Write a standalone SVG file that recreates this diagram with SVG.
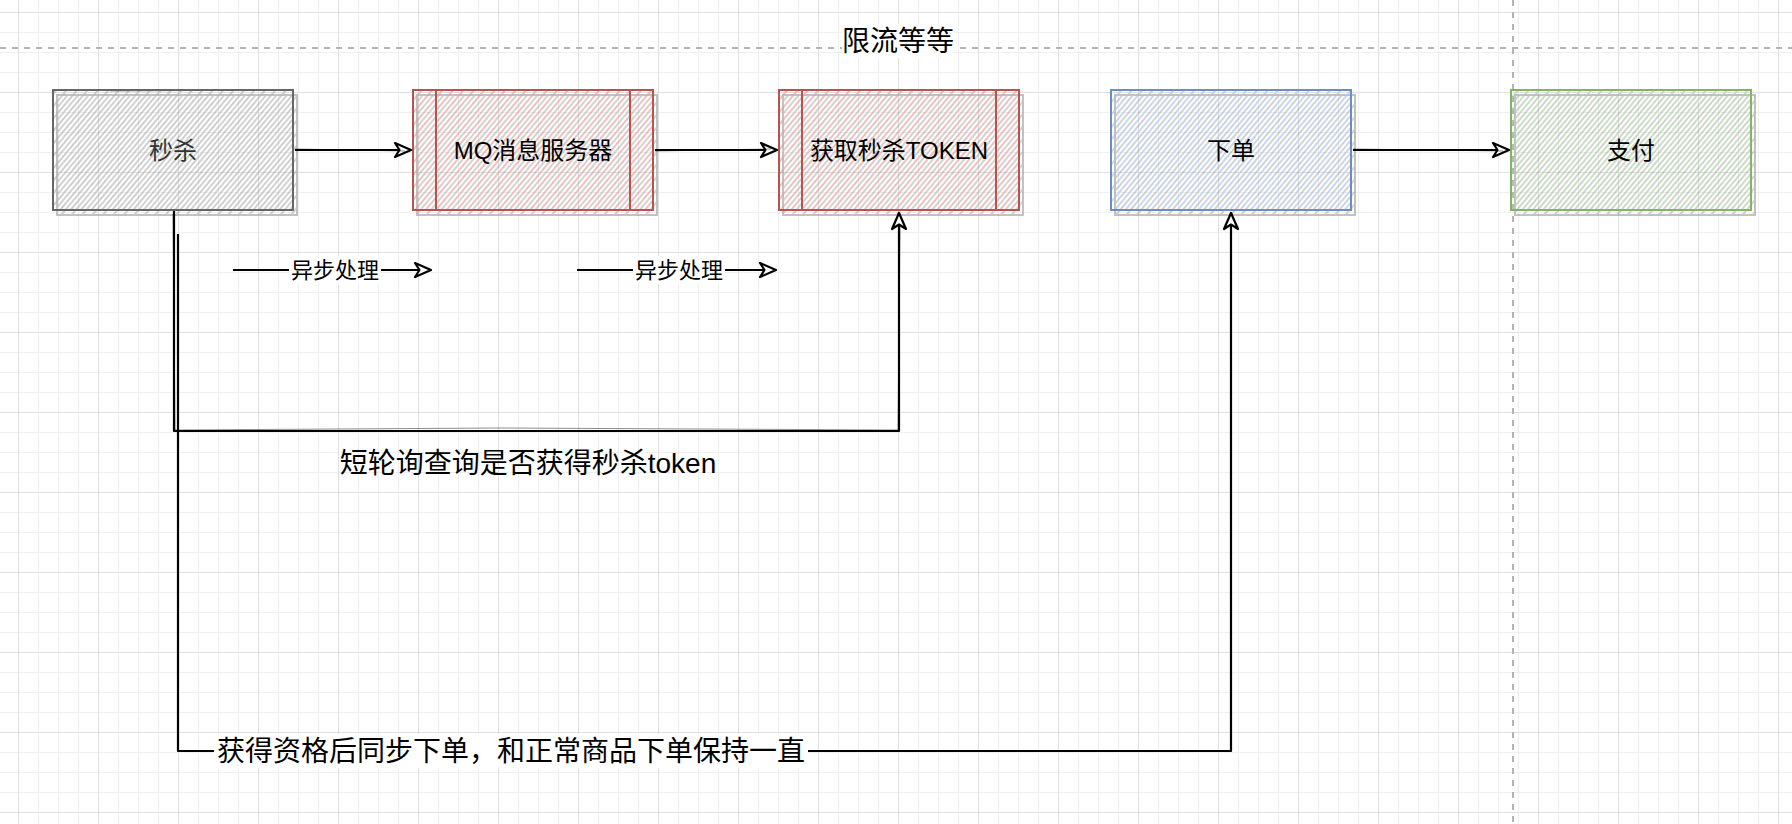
<svg xmlns="http://www.w3.org/2000/svg" width="1792" height="824" viewBox="0 0 1792 824">
<style>
.t{font-family:"Liberation Sans","Noto Sans CJK SC",sans-serif;text-anchor:middle;dominant-baseline:central;fill:#000}
.conn{fill:none;stroke:#000;stroke-width:2.2;stroke-linejoin:round}
.sk{fill:none;stroke:#000;stroke-width:1;opacity:.45}
.shadow{stroke:#9a9a9a;stroke-width:2;opacity:.6}
.dash{stroke:#b3b3b3;stroke-width:2;stroke-dasharray:6 6;fill:none}
</style>
<defs>
<pattern id="gridMinor" patternUnits="userSpaceOnUse" x="18" y="12" width="20" height="20">
<path d="M0 0V20M0 0H20" stroke="#efefef" stroke-width="2" fill="none"/>
</pattern>
<pattern id="gridMajor" patternUnits="userSpaceOnUse" x="18" y="12" width="80" height="80">
<path d="M0 0V80M0 0H80" stroke="#d4d4d4" stroke-width="1.2" fill="none"/>
</pattern>
<pattern id="hShadow" patternUnits="userSpaceOnUse" width="8" height="8" patternTransform="rotate(40)">
<line x1="1" y1="0" x2="1" y2="8" stroke="#7a7a7a" stroke-width="1.1"/>
</pattern>
<pattern id="hGray" patternUnits="userSpaceOnUse" width="8" height="8" patternTransform="rotate(40) translate(4 0)">
<line x1="1" y1="0" x2="1" y2="8" stroke="#b5b5b5" stroke-width="1.3"/>
</pattern>
<pattern id="hRed" patternUnits="userSpaceOnUse" width="8" height="8" patternTransform="rotate(40) translate(4 0)">
<line x1="1" y1="0" x2="1" y2="8" stroke="#e89e9a" stroke-width="1.3"/>
</pattern>
<pattern id="hBlue" patternUnits="userSpaceOnUse" width="8" height="8" patternTransform="rotate(40) translate(4 0)">
<line x1="1" y1="0" x2="1" y2="8" stroke="#a8c3ec" stroke-width="1.3"/>
</pattern>
<pattern id="hGreen" patternUnits="userSpaceOnUse" width="8" height="8" patternTransform="rotate(40) translate(4 0)">
<line x1="1" y1="0" x2="1" y2="8" stroke="#a9d29c" stroke-width="1.3"/>
</pattern>
<marker id="arr" markerUnits="userSpaceOnUse" markerWidth="22" markerHeight="18" refX="17" refY="8" orient="auto" overflow="visible">
<path d="M1 1 L17 8 L1 15 L5.5 8 Z" fill="#fff" stroke="#000" stroke-width="2.2" stroke-linejoin="round"/>
</marker>
</defs>

<rect width="1792" height="824" fill="#fff"/>
<rect width="1792" height="824" fill="url(#gridMinor)"/>
<rect width="1792" height="824" fill="url(#gridMajor)"/>

<g id="dividers">
<line class="dash" x1="0" y1="48" x2="1792" y2="48"/>
<line class="dash" x1="1513" y1="0" x2="1513" y2="824"/>
</g>

<g id="label-limit">
<rect x="842" y="24" width="112" height="34" fill="#fff"/>
<text class="t" x="898" y="41" font-size="28">限流等等</text>
</g>

<g id="node-seckill">
<rect x="57" y="95" width="240" height="120" fill="url(#hShadow)" class="shadow"/>
<rect x="53" y="90" width="240" height="120" fill="url(#hGray)" stroke="#666" stroke-width="2"/>
<path d="M110 91 L292 90" stroke="#666" stroke-width="1" fill="none" opacity=".6"/>
<text class="t" x="173" y="150" font-size="24" style="fill:#333">秒杀</text>
</g>

<g id="node-mq">
<rect x="417" y="95" width="240" height="120" fill="url(#hShadow)" class="shadow"/>
<rect x="413" y="90" width="240" height="120" fill="url(#hRed)" stroke="#b85450" stroke-width="2"/>
<line x1="436" y1="90" x2="436" y2="210" stroke="#b85450" stroke-width="2"/>
<line x1="630" y1="90" x2="630" y2="210" stroke="#b85450" stroke-width="2"/>
<text class="t" x="533" y="150" font-size="24">MQ消息服务器</text>
</g>

<g id="node-token">
<rect x="783" y="95" width="240" height="120" fill="url(#hShadow)" class="shadow"/>
<rect x="779" y="90" width="240" height="120" fill="url(#hRed)" stroke="#b85450" stroke-width="2"/>
<line x1="802" y1="90" x2="802" y2="210" stroke="#b85450" stroke-width="2"/>
<line x1="996" y1="90" x2="996" y2="210" stroke="#b85450" stroke-width="2"/>
<text class="t" x="899" y="150" font-size="24">获取秒杀TOKEN</text>
</g>

<g id="node-order">
<rect x="1115" y="95" width="240" height="120" fill="url(#hShadow)" class="shadow"/>
<rect x="1111" y="90" width="240" height="120" fill="url(#hBlue)" stroke="#6c8ebf" stroke-width="2"/>
<text class="t" x="1231" y="150" font-size="24">下单</text>
</g>

<g id="node-pay">
<rect x="1515" y="95" width="240" height="120" fill="url(#hShadow)" class="shadow"/>
<rect x="1511" y="90" width="240" height="120" fill="url(#hGreen)" stroke="#82b366" stroke-width="2"/>
<text class="t" x="1631" y="150" font-size="24">支付</text>
</g>

<g id="connectors">
<path class="conn" d="M295 150 L411 150" marker-end="url(#arr)"/>
<path class="sk" d="M295 149 L405 151"/>
<path class="conn" d="M655 150 L777 150" marker-end="url(#arr)"/>
<path class="sk" d="M655 151 L771 149"/>
<path class="conn" d="M1353 150 L1509 150" marker-end="url(#arr)"/>
<path class="sk" d="M1353 149 L1503 151"/>

<path class="conn" d="M174 211 L174 431 L899 431 L899 213" marker-end="url(#arr)"/>
<path class="sk" d="M173 214 L175 430 L500 428 L898 430 L900 224"/>

<path class="conn" d="M178 234 L178 751 L1231 751 L1231 213" marker-end="url(#arr)"/>

<path class="conn" d="M233 270 L431 270" marker-end="url(#arr)"/>
<path class="conn" d="M577 270 L776 270" marker-end="url(#arr)"/>
</g>

<g id="labels">
<rect x="289" y="256" width="92" height="28" fill="#fff"/>
<text class="t" x="335" y="270" font-size="22">异步处理</text>
<rect x="633" y="256" width="92" height="28" fill="#fff"/>
<text class="t" x="679" y="270" font-size="22">异步处理</text>
<text class="t" x="528" y="463" font-size="28">短轮询查询是否获得秒杀token</text>
<rect x="214" y="734" width="594" height="34" fill="#fff"/>
<text class="t" x="511" y="751" font-size="28">获得资格后同步下单，和正常商品下单保持一直</text>
</g>
</svg>
